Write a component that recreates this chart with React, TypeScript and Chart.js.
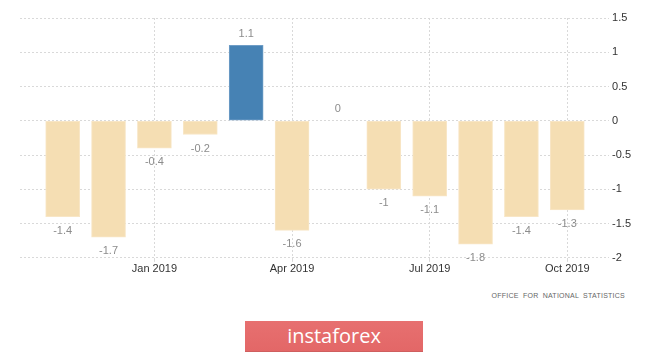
import React, { useEffect, useRef } from 'react';
import { Chart, registerables } from 'chart.js';

Chart.register(...registerables);

const months = ['Nov 2018', 'Dec 2018', 'Jan 2019', 'Feb 2019', 'Mar 2019', 'Apr 2019', 'May 2019', 'Jun 2019', 'Jul 2019', 'Aug 2019', 'Sep 2019', 'Oct 2019'];
const values = [-1.4, -1.7, -0.4, -0.2, 1.1, -1.6, 0, -1, -1.1, -1.8, -1.4, -1.3];
const xTickMonths = ['Jan 2019', 'Apr 2019', 'Jul 2019', 'Oct 2019'];
const yMin = -2;
const yMax = 1.5;
const yStep = 0.5;
const sourceText = 'OFFICE FOR NATIONAL STATISTICS';
const brandText = 'instaforex';

const POS_COLOR = '#4682b4';
const NEG_COLOR = '#f5deb3';
const FONT = '"Liberation Sans", Arial, sans-serif';

const valueLabelPlugin = {
  id: 'valueLabels',
  afterDatasetsDraw(chart: any) {
    const { ctx } = chart;
    const meta = chart.getDatasetMeta(0);
    ctx.save();
    ctx.font = `11px ${FONT}`;
    ctx.fillStyle = '#8c8c8c';
    ctx.textAlign = 'center';
    ctx.textBaseline = 'middle';
    meta.data.forEach((el: any, i: number) => {
      const v = values[i];
      const y = v < 0 ? el.y + 14 : v > 0 ? el.y - 11 : el.y - 12;
      ctx.fillText(String(v), el.x, y);
    });
    ctx.restore();
  },
};

export default function App() {
  const canvasRef = useRef<HTMLCanvasElement | null>(null);

  useEffect(() => {
    if (!canvasRef.current) return;
    const chart = new Chart(canvasRef.current, {
      type: 'bar',
      data: {
        datasets: [
          {
            data: values.map((v, i) => ({ x: i, y: v })),
            backgroundColor: values.map((v) => (v > 0 ? POS_COLOR : NEG_COLOR)),
            borderColor: values.map((v) => (v > 0 ? '#6f9dc6' : '#f8e6c6')),
            borderWidth: 1,
            borderSkipped: false,
            barThickness: 34,
          },
        ],
      },
      options: {
        animation: false,
        responsive: false,
        maintainAspectRatio: false,
        layout: { padding: { left: 20, top: 18, right: 31, bottom: 5 } },
        plugins: {
          legend: { display: false },
          tooltip: { enabled: false },
        },
        scales: {
          x: {
            type: 'linear',
            min: -0.93,
            max: 11.91,
            offset: false,
            grid: {
              offset: false,
              color: '#d9d9d9',
              lineWidth: 1,
              drawTicks: true,
              tickLength: 4,
            },
            border: { display: false, dash: [2, 2] },
            afterBuildTicks: (scale: any) => {
              scale.ticks = xTickMonths.map((m) => ({ value: months.indexOf(m) }));
            },
            ticks: {
              autoSkip: false,
              maxRotation: 0,
              padding: 1,
              color: '#333',
              font: { family: FONT, size: 11 },
              callback: (value: any) => months[Math.round(Number(value))] ?? '',
            },
          },
          y: {
            position: 'right',
            min: yMin,
            max: yMax,
            grid: {
              color: '#d9d9d9',
              lineWidth: 1,
              drawTicks: false,
            },
            border: { display: false, dash: [2, 2] },
            ticks: {
              stepSize: yStep,
              padding: 3,
              color: '#333',
              font: { family: FONT, size: 11 },
              callback: (value: any) => String(Number(value)),
            },
          },
        },
      },
      plugins: [valueLabelPlugin],
    } as any);
    return () => chart.destroy();
  }, []);

  return (
    <div style={{ position: 'fixed', left: 0, top: 0, width: 665, height: 352, background: '#fff', overflow: 'hidden' }}>
      <canvas ref={canvasRef} width={665} height={282} style={{ position: 'absolute', left: 0, top: 0, width: 665, height: 282 }} />
      <div
        style={{
          position: 'absolute',
          right: 40,
          top: 291,
          fontFamily: FONT,
          fontSize: 7,
          letterSpacing: 0.25,
          wordSpacing: 2,
          color: '#666',
          whiteSpace: 'nowrap',
          lineHeight: '10px',
        }}
      >
        {sourceText}
      </div>
      <div
        style={{
          position: 'absolute',
          left: 245,
          top: 321,
          width: 178,
          height: 31,
          background: 'linear-gradient(#e77070, #e36767)',
          borderBottom: '1px solid #cf5f5f',
          boxSizing: 'border-box',
          color: '#fff',
          fontFamily: '"Open Sans", "Noto Sans", sans-serif',
          fontSize: 20,
          lineHeight: '30px',
          textAlign: 'center',
        }}
      >
        {brandText}
      </div>
    </div>
  );
}
